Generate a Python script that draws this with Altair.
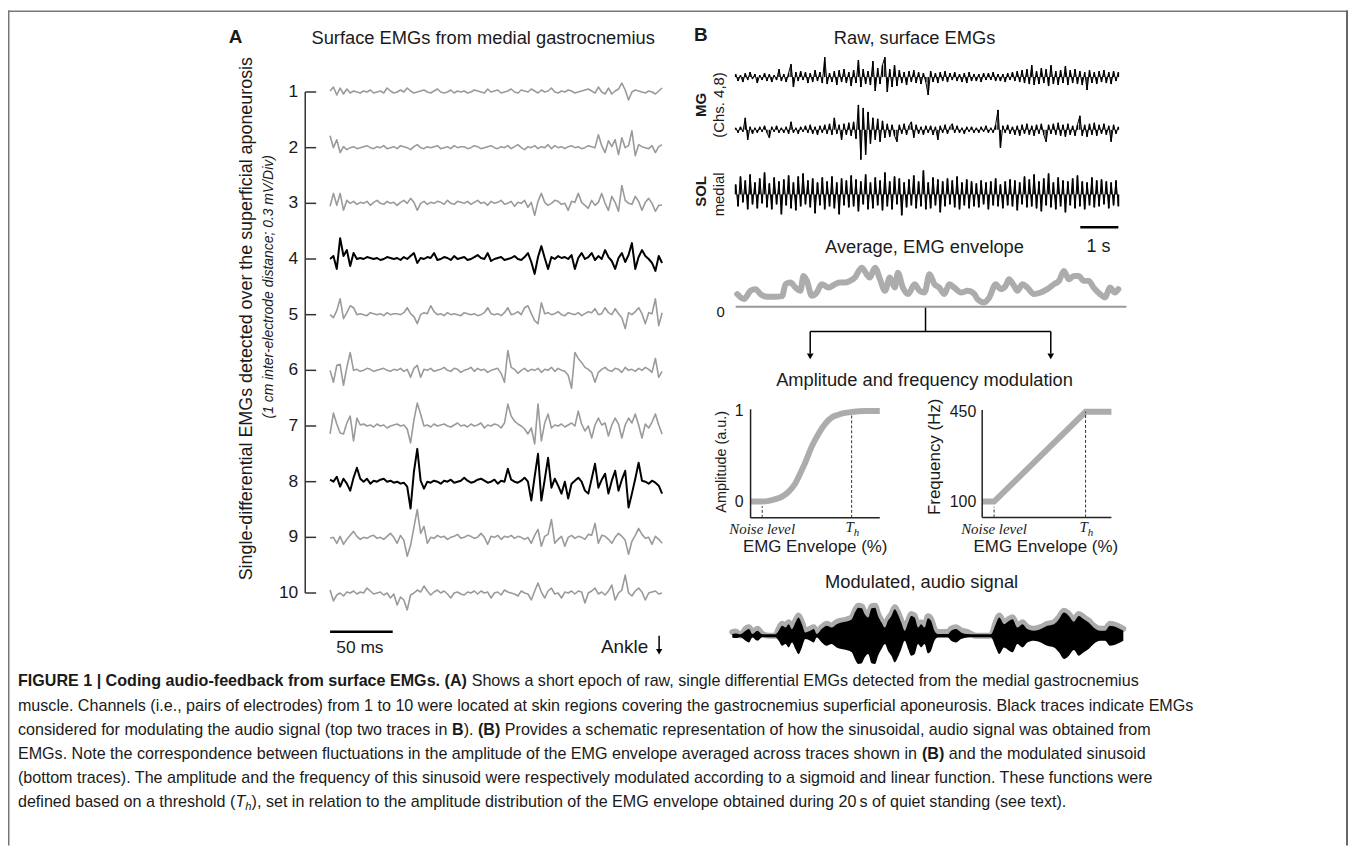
import altair as alt
import numpy as np
import pandas as pd

# ---------------------------------------------------------------- data
# Panel A: single-differential EMGs, channels 1-10 (deflection, up = positive;
# one channel division = 56 units = 0.3 mV)
A_EPOCH_MS = 265
A_SCALEBAR_MS = 50
A_CHANNELS = [1, 2, 3, 4, 5, 6, 7, 8, 9, 10]
A_DARK_CHANNELS = [4, 8]
A_UNITS_PER_DIV = 56

A_CH1 = [1, 5, -3, 4, -2, 3, -1, 1, 0, -1, 1, 0, 2, -1, 0, 1, -1, 4, 1, -1,
         0, 2, 0, 4, 1, -1, 0, 1, 2, 0, -1, 1, 3, 0, -1, 0, 2, -1, 1, 0,
         1, -1, 0, 2, 1, 0, -1, 3, 0, 1, 2, -1, 0, 1, 3, 0, -1, 2, 1, 0,
         3, 1, -1, 2, 0, 1, 4, 0, -1, 1, 0, 2, 1, -1, 0, 1, 2, 3, 1, -1,
         5, 0, -2, 4, -2, 1, 3, 9, 2, -8, 0, 2, 1, 0, -1, 1, 0, -2, 1, 4]
A_CH2 = [12, 0, 8, -5, 1, -2, 0, 1, -1, 0, 1, 2, 0, -1, 1, 0, 2, -1, 0, 1,
         -1, 2, 1, 0, -2, 1, 3, 0, -1, 1, 0, 1, 2, -1, 0, 1, -1, 2, 0, 1,
         1, -1, 0, 2, 1, -1, 0, 1, 2, 0, -1, 1, 0, 2, -1, 1, 3, 0, -2, 1,
         0, 2, -1, 1, 0, 3, -1, 2, 0, 1, -1, 1, 2, 0, 1, -1, 0, 2, 1, 0,
         13, 2, -5, 7, 1, 8, -7, 10, 0, 2, 17, -8, 3, 1, 0, -1, 2, -5, 1, 3]
A_CH3 = [-3, 10, -2, 10, -7, 3, 0, 2, -1, 1, 0, 2, -2, 1, 3, 0, -1, 2, 0, 1,
         -2, 1, 3, 0, 5, 1, -7, 0, 2, -1, 1, 0, 2, 1, -1, 3, 0, -1, 2, 1,
         0, 2, -1, 1, 3, 0, 1, -2, 2, 0, 1, 3, -1, 0, 2, -3, 1, 0, 3, -4,
         1, -12, 2, 10, 1, -2, 0, 3, 2, -1, 0, -7, 2, 1, 10, 1, -2, -5, 3, -2,
         1, 10, 0, -7, 7, 1, -8, 18, 3, 0, -1, 7, 2, -7, 1, 5, 0, -8, -2, -2]
A_CH4 = [0, 3, -10, 21, 3, 9, -7, 6, 0, 1, 0, 2, 1, 0, 1, -1, 0, 2, 1, 0,
         1, -1, 2, 0, 3, 6, -4, 1, 0, 2, 1, 6, -1, 0, 2, 1, -1, 3, 0, 1,
         2, -1, 0, 2, 4, 1, 0, 6, -2, 0, 1, 2, -1, 0, 1, 3, 0, -1, 2, 6,
         -3, -15, 2, 13, 1, -10, 2, 0, 3, 1, 2, 0, 4, -10, 1, 6, 0, 2, 6, -1,
         3, 0, 9, 2, -2, -10, 1, 6, -3, 4, 16, -10, 2, 9, 3, 0, -4, -12, 3, -4]
A_CH5 = [0, -3, 4, 16, -4, 2, 9, 7, 0, 1, 0, -1, 2, 1, 0, 1, -1, 2, 0, 1,
         1, 0, 2, 7, 1, -2, -9, 0, 2, 1, 9, 3, 0, 1, -1, 2, 0, 1, 0, -1,
         2, 1, 0, 1, -1, 0, 2, 7, 1, 0, 1, -1, 2, 7, 0, 1, 3, 0, 7, 9,
         1, -6, -9, 12, 1, 2, 0, 1, 3, 0, -1, 2, 1, 0, 2, -1, 1, 3, 2, 6,
         0, 1, 7, 2, 0, 6, 1, -3, -14, 2, 0, 3, 7, 1, -9, 2, 1, 16, -11, 2]
A_CH6 = [0, -12, 5, 6, -15, 3, 18, 0, 1, -1, 0, 2, 1, -1, 0, 1, 2, 0, -1, 1,
         0, 2, -1, 1, -7, 2, 5, -7, 1, 0, 2, -1, 0, 1, 3, 0, -1, 2, 1, -2,
         0, 1, 3, -1, 2, 0, 1, -2, 0, 1, 2, -3, -12, 20, 3, 1, -3, 0, 2, -1,
         1, 0, 2, -2, 1, 0, 3, -1, 2, 0, -1, -5, -18, 18, 12, 8, 3, 1, -2, -12,
         -2, 1, 3, 0, -1, 2, 1, -2, 3, 0, 1, -1, 2, 0, 3, 1, -2, 12, -7, -1]
A_CH7 = [-8, 13, 2, -7, -8, 3, 10, -15, 8, 1, 2, 0, 1, -1, 2, 0, 1, -2, 0, 1,
         2, 0, 1, -3, -17, 6, 23, 12, 0, 1, -1, 2, 0, 1, 2, 0, -1, 1, 3, 0,
         1, -1, 2, 0, 1, 3, -2, 1, 0, 2, 1, -2, 3, 22, 10, 5, 2, 0, -3, -8,
         -2, -18, 22, -15, 3, 12, -2, 1, 0, 2, -1, 1, 3, 0, 15, 2, -5, 0, -12, 1,
         8, 1, 3, -10, 1, 8, 2, -12, 1, 8, 3, 12, 1, -12, 2, -2, 4, 12, 1, -8]
A_CH8 = [2, 0, 5, -5, 3, -2, -9, 4, 14, 3, 0, 3, -2, 1, 0, 2, 3, 0, 1, -1,
         0, -2, -1, -5, -27, 10, 33, 1, -7, 0, -1, 1, 0, -2, 1, 0, 2, -1, 0, 1,
         4, 1, -1, 0, 2, 3, 1, -1, 0, 2, -2, 1, 0, 13, 2, 0, -1, 1, 4, 0,
         -19, 5, 28, -19, 2, 24, -6, 3, -4, -12, 0, -17, -2, 1, 4, 0, -9, -12, 3, 18,
         -6, 2, 8, -12, 1, 11, -9, 2, 11, -26, -12, 3, 19, 1, 0, -2, 1, -1, -4, -12]
A_CH9 = [-1, 0, -6, 1, -7, -2, 2, 6, 1, -2, 0, -1, 1, 2, -1, 0, -2, 1, 4, 0,
         -6, 2, -3, -19, -8, 10, 28, 4, 11, -6, 0, -1, 2, 0, 1, -2, 0, 1, 3, -1,
         0, 2, 1, -1, 0, 4, 0, -7, 1, 0, 2, -2, 1, 0, 2, -1, 1, 0, -2, 0,
         -6, 2, 8, -9, 1, 3, 18, -6, -2, 1, -9, 0, 2, -1, 1, 0, -2, 3, 2, 14,
         -6, 2, 1, -2, -6, 0, 4, 1, -3, -17, -4, 2, 9, 3, -1, 0, -7, 1, -2, -6]
A_CH10 = [3, -8, -2, 0, -3, 1, 0, 2, -1, 1, 0, 5, 2, -1, 0, 1, -2, 0, -5, -1,
          -12, -4, -7, -17, -2, 0, 3, 1, 7, 2, -2, 1, 3, 0, 2, -1, -5, 0, 1, -1,
          -2, 1, 0, 2, -1, 2, 0, 1, -5, 0, 1, -2, 3, 1, 0, -1, -3, 2, 0, -1,
          -7, 2, 10, 1, -5, 2, 5, -1, 0, -5, 1, 0, 2, -1, 2, 1, -10, 0, 2, 5,
          -1, 1, -2, 2, 8, -7, 0, 3, 18, 0, -3, 2, 5, 1, -7, 0, 1, 2, -1, 0]

# Panel B: raw surface EMGs (10 s)
B_DURATION_S = 10.05
B_SCALEBAR_S = 1.0
B_MG_CH4 = [3, -4, 2, -5, 4, -3, 5, -2, 3, -6, 2, -3, 4, -4, 3, -5, 2, -3, 8, -4,
            3, -5, 4, 13, -10, 5, -4, 6, -3, 5, -6, 4, -5, 7, -4, 5, -6, 20, -7, 4,
            -5, 6, -8, 7, -5, 8, -6, 5, -9, 7, -6, 17, -10, 8, -7, 6, -8, 16, -14, 9,
            -7, 12, 20, -15, 8, -10, 12, -9, 7, -6, 5, -8, 6, -5, 7, -6, 5, -7, 4, -5,
            -18, 6, -5, 4, -6, 5, -4, 6, -5, 4, -3, 5, -4, 3, -5, 4, -6, 5, -4, 3,
            -4, 3, -5, 4, -3, 4, -3, 5, -4, 3, -4, 3, -5, 4, -3, 5, -4, 6, -5, 7,
            -6, 8, -7, 12, -8, 6, -7, 9, -6, 8, -9, 12, -7, 6, -8, 7, -6, 11, -8, 7,
            -6, 8, -7, 6, -8, 5, -13, 7, -6, 5, -7, 6, -5, 7, -6, 5, -7, 6, -4, 5]
B_MG_CH8 = [2, -3, 3, -2, 12, -10, 3, -4, 2, -3, 3, -2, 4, -3, -8, 3, -2, 4, -3, 2,
            -3, 3, -4, 8, -3, 2, -4, 3, -2, 4, -3, 5, -4, 3, -5, 4, -3, 5, -4, 6,
            -5, 12, -4, 5, -10, 6, -5, 7, -6, 8, -9, 25, -30, 22, -25, 18, -14, 12, -10, 11,
            -12, 9, -8, 6, -7, 5, -6, -12, 5, -4, 6, -5, 4, 8, -8, 5, -4, 3, -5, 4,
            -3, 4, -5, 3, -10, 4, -3, 5, -4, 3, 6, -3, 4, -3, 2, -4, 3, -2, 3, -3,
            2, -3, 3, -2, 4, -3, 2, -3, 5, 20, -18, 4, -3, 5, -4, 3, -5, 4, -6, 5,
            -4, 6, -5, 4, -6, 5, -4, 6, -5, -12, 5, -4, 6, -5, 7, -6, 5, -7, 6, -5,
            4, -6, 5, 14, -6, 5, -7, 6, -5, 7, -6, 5, -4, 6, -5, 4, -12, 5, -4, 3]
B_SOL_MED = [10, -12, 18, -8, 14, -15, 20, -10, 12, -14, 16, -9, 22, -13, 11, -15, 17, -10, 13, -20,
             15, -11, 19, -14, 12, -16, 18, -12, 21, -10, 14, -13, 16, -19, 12, -11, 17, -15, 13, -12,
             18, -14, 12, -20, 16, -11, 14, -13, 19, -12, 15, -17, 13, -10, 20, -15, 12, -14, 17, -11,
             14, -16, 22, -12, 13, -15, 18, -10, 16, -21, 12, -13, 15, -11, 19, -14, 13, -12, 24, -15,
             12, -14, 17, -11, 15, -18, 13, -12, 16, -10, 14, -13, 18, -15, 12, -11, 15, -14, 13, -12,
             11, -13, 14, -10, 12, -15, 13, -11, 16, -12, 10, -14, 13, -11, 15, -12, 14, -16, 12, -10,
             18, -13, 15, -12, 20, -14, 13, -17, 16, -11, 21, -13, 12, -15, 17, -12, 14, -18, 13, -11,
             16, -14, 19, -12, 13, -15, 12, -11, 17, -13, 14, -12, 15, -10, 13, -14, 12, -11, 14, -12]

# Average EMG envelope (time in s, value in a.u.)
ENV_T = [0.04, 0.22, 0.39, 0.52, 0.65, 0.83, 1.04, 1.22, 1.31, 1.44, 1.57, 1.70, 1.78, 1.87,
         2.00, 2.13, 2.26, 2.44, 2.61, 2.74, 2.87, 3.00, 3.13, 3.31, 3.44, 3.52, 3.66, 3.79,
         3.92, 4.05, 4.18, 4.26, 4.39, 4.53, 4.70, 4.83, 4.96, 5.09, 5.22, 5.35, 5.48, 5.61,
         5.74, 5.92, 6.09, 6.27, 6.35, 6.53, 6.66, 6.83, 6.96, 7.09, 7.18, 7.31, 7.40, 7.53,
         7.66, 7.83, 8.01, 8.18, 8.36, 8.49, 8.62, 8.75, 8.88, 9.01, 9.14, 9.27, 9.40, 9.57,
         9.70, 9.83, 9.96, 10.05]
ENV_V = [12.7, 7.7, 16, 17.7, 12.7, 10, 10, 10.7, 22.7, 24.3, 19.3, 16, 31, 26,
         11, 14.3, 22.7, 19.3, 22.7, 24.3, 24.3, 26, 29.3, 39.3, 32.7, 29.3, 39.3, 27.7,
         16, 29.3, 19.3, 34.3, 19.3, 12.7, 22.7, 16, 14.3, 32.7, 22.7, 19.3, 12.7, 22.7,
         19.3, 14.3, 16, 12.7, 7.7, 4.3, 9.3, 22.7, 17.7, 21, 27.7, 21, 16, 22.7,
         19.3, 12.7, 14.3, 17.7, 22.7, 26, 36, 27.7, 31, 31, 26, 26, 19.3, 12.7,
         9.3, 19.3, 14.3, 17.7]
ENV_BASE_END_S = 10.26

# Modulated audio signal: envelope amplitude (a.u.)
AUD_T = [-0.09, 0.0, 0.13, 0.26, 0.35, 0.44, 0.57, 0.70, 0.87, 1.04, 1.13, 1.22, 1.31, 1.39,
         1.48, 1.57, 1.65, 1.74, 1.83, 1.96, 2.05, 2.13, 2.26, 2.39, 2.52, 2.65, 2.78, 2.91,
         3.05, 3.13, 3.22, 3.31, 3.39, 3.48, 3.57, 3.66, 3.74, 3.83, 3.92, 4.00, 4.09, 4.18,
         4.26, 4.35, 4.44, 4.53, 4.61, 4.70, 4.79, 4.87, 4.96, 5.05, 5.13, 5.22, 5.31, 5.44,
         5.57, 5.66, 5.79, 5.92, 6.09, 6.27, 6.35, 6.53, 6.70, 6.83, 6.92, 7.05, 7.18, 7.27,
         7.40, 7.53, 7.66, 7.83, 8.01, 8.18, 8.36, 8.49, 8.62, 8.75, 8.88, 9.01, 9.14, 9.27,
         9.40, 9.57, 9.70, 9.83, 10.01, 10.18]
AUD_A = [6.7, 7.3, 3.3, 10, 11.7, 6.7, 10, 5, 2.7, 2.7, 10, 15, 13.3, 16.7,
         11.7, 18.3, 23.3, 16.7, 8.3, 10, 11.7, 6.7, 11.7, 15, 13.3, 16.7, 18.3, 19.3,
         21.7, 28.3, 33.3, 32.7, 26.7, 23.3, 32.7, 33.3, 25, 18.3, 13.3, 20, 25, 31.7,
         26.7, 18.3, 10, 18.3, 25, 23.3, 13.3, 16.7, 13.3, 22.7, 20, 10, 6.7, 6.7,
         6.7, 10, 11.7, 8.3, 6.7, 3.3, 1.7, 0.7, 0.7, 16.7, 23.3, 16.7, 20, 21.7,
         13.3, 16.7, 11.7, 10, 11.7, 15, 16.7, 21.7, 28.3, 25, 19.3, 25, 21.7, 18.3,
         13.3, 10, 10, 15, 13.3, 10]

# Amplitude (sigmoid) and frequency (linear) modulation functions
SIG_X = [0, 9.0, 14.1, 19.2, 24.4, 29.5, 34.6, 39.7, 42.3, 47.4, 52.6, 57.7, 62.8, 67.9,
         73.1, 78.2, 88.5, 100]
SIG_Y = [0, 0, 0.007, 0.026, 0.055, 0.11, 0.20, 0.35, 0.43, 0.61, 0.75, 0.86, 0.93, 0.96,
         0.98, 0.99, 1.0, 1.0]
LIN_X = [0, 9.2, 80, 100]
LIN_Y = [100, 100, 450, 450]
SIG_TICKS = [0, 1]
LIN_TICKS = [100, 450]
NOISE_AMP, TH_AMP = 9.0, 78.2
NOISE_FREQ, TH_FREQ = 9.2, 80.0

# caption lines: list of (text, weight, style) segments
CAPTION_LINES = [
    [("FIGURE 1 | Coding audio-feedback from surface EMGs. (A) ", "bold", "normal"),
     ("Shows a short epoch of raw, single differential EMGs detected from the medial gastrocnemius", "normal", "normal")],
    [("muscle. Channels (i.e., pairs of electrodes) from 1 to 10 were located at skin regions covering the gastrocnemius superficial aponeurosis. Black traces indicate EMGs", "normal", "normal")],
    [("considered for modulating the audio signal (top two traces in ", "normal", "normal"),
     ("B", "bold", "normal"), ("). ", "normal", "normal"), ("(B) ", "bold", "normal"),
     ("Provides a schematic representation of how the sinusoidal, audio signal was obtained from", "normal", "normal")],
    [("EMGs. Note the correspondence between fluctuations in the amplitude of the EMG envelope averaged across traces shown in ", "normal", "normal"),
     ("(B) ", "bold", "normal"), ("and the modulated sinusoid", "normal", "normal")],
    [("(bottom traces). The amplitude and the frequency of this sinusoid were respectively modulated according to a sigmoid and linear function. These functions were", "normal", "normal")],
    [("defined based on a threshold (", "normal", "normal"), ("T", "normal", "italic"),
     ("h", "normal", "sub"),
     ("), set in relation to the amplitude distribution of the EMG envelope obtained during 20\u2009s of quiet standing (see text).", "normal", "normal")],
]

# ---------------------------------------------------------------- helpers
M = 8  # page margin


def P(v):
    return v - M


FONT = "Liberation Sans, Arial, Helvetica, sans-serif"
SERIF = "Liberation Serif, DejaVu Serif, serif"
TXT = "#1a1a1a"
GRAY = "#9a9a9a"
LGRAY = "#acacac"
ONE = pd.DataFrame({"k": [0]})

# Arial / Liberation Sans advance widths (1/1000 em) for caption layout
_REG = {' ': 278, '!': 278, '(': 333, ')': 333, ',': 278, '-': 333, '.': 278, '/': 278,
        ':': 278, ';': 278, '|': 260, '%': 889, '\u2009': 200,
        'A': 667, 'B': 667, 'C': 722, 'D': 722, 'E': 667, 'F': 611, 'G': 778, 'H': 722,
        'I': 278, 'J': 500, 'K': 667, 'L': 556, 'M': 833, 'N': 722, 'O': 778, 'P': 667,
        'Q': 778, 'R': 722, 'S': 667, 'T': 611, 'U': 722, 'V': 667, 'W': 944, 'X': 667,
        'Y': 667, 'Z': 611, 'a': 556, 'b': 556, 'c': 500, 'd': 556, 'e': 556, 'f': 278,
        'g': 556, 'h': 556, 'i': 222, 'j': 222, 'k': 500, 'l': 222, 'm': 833, 'n': 556,
        'o': 556, 'p': 556, 'q': 556, 'r': 333, 's': 500, 't': 278, 'u': 556, 'v': 500,
        'w': 722, 'x': 500, 'y': 500, 'z': 500}
_BOLD = dict(_REG)
_BOLD.update({'|': 280, 'A': 722, 'B': 722, 'J': 556, 'K': 722, 'L': 611, 'b': 611,
              'c': 556, 'd': 611, 'f': 333, 'g': 611, 'h': 611, 'i': 278, 'j': 278,
              'k': 556, 'l': 278, 'm': 889, 'n': 611, 'o': 611, 'p': 611, 'q': 611,
              'r': 389, 's': 556, 't': 333, 'u': 611, 'v': 556, 'w': 778, 'x': 556,
              'y': 556, '(': 333, ')': 333})


def text_width(s, size, bold=False):
    tab = _BOLD if bold else _REG
    return sum(tab.get(c, 556) for c in s) * size / 1000.0


def sc(dom, rng):
    return alt.Scale(domain=dom, range=rng, nice=False, zero=False)


def label(text, x, y, size=16, weight="normal", style="normal", angle=0,
          align="center", font=FONT, color=TXT):
    return alt.Chart(ONE).mark_text(
        fontSize=size, fontWeight=weight, fontStyle=style, angle=angle,
        align=align, baseline="middle", font=font, color=color
    ).encode(x=alt.value(P(x)), y=alt.value(P(y)), text=alt.value(text))


def vrule(x, y1, y2, color="black", w=1.5):
    return alt.Chart(ONE).mark_rule(color=color, strokeWidth=w).encode(
        x=alt.value(P(x)), y=alt.value(P(y1)), y2=alt.value(P(y2)))


def hrule(x1, x2, y, color="black", w=1.5):
    return alt.Chart(ONE).mark_rule(color=color, strokeWidth=w).encode(
        x=alt.value(P(x1)), x2=alt.value(P(x2)), y=alt.value(P(y)))


def tri(x, y, size=45):
    return alt.Chart(ONE).mark_point(shape="triangle-down", filled=True, size=size,
                                     color="black", opacity=1).encode(
        x=alt.value(P(x)), y=alt.value(P(y)))


def xd(v, scale=None):
    if scale is None:
        return alt.XDatum(v, type="quantitative", axis=None)
    return alt.XDatum(v, type="quantitative", axis=None, scale=scale)


def yd(v, scale=None):
    if scale is None:
        return alt.YDatum(v, type="quantitative", axis=None)
    return alt.YDatum(v, type="quantitative", axis=None, scale=scale)


layers = []

# ---------------------------------------------------------------- panel A
rows = []
for ch, vals in zip(A_CHANNELS, [A_CH1, A_CH2, A_CH3, A_CH4, A_CH5,
                                 A_CH6, A_CH7, A_CH8, A_CH9, A_CH10]):
    n = len(vals)
    for i, v in enumerate(vals):
        rows.append({"ch": ch, "t": i * A_EPOCH_MS / (n - 1),
                     "y": ch - v / A_UNITS_PER_DIV})
dfA = pd.DataFrame(rows)
xA = sc([0, A_EPOCH_MS], [P(332), P(666)])
yA = sc([1, 10], [P(90), P(594)])
encA = dict(x=alt.X("t:Q", scale=xA, axis=None),
            y=alt.Y("y:Q", scale=yA, axis=None), detail="ch:N")
a_gray = alt.Chart(dfA[~dfA.ch.isin(A_DARK_CHANNELS)]).mark_line(
    color=GRAY, strokeWidth=1.6, strokeJoin="round").encode(**encA)
a_dark = alt.Chart(dfA[dfA.ch.isin(A_DARK_CHANNELS)]).mark_line(
    color="black", strokeWidth=2, strokeJoin="round").encode(**encA)
dfCh = pd.DataFrame({"ch": A_CHANNELS})
a_ticks = alt.Chart(dfCh).mark_rule(color="#333", strokeWidth=1.5).encode(
    y=alt.Y("ch:Q", scale=yA, axis=None), x=alt.value(P(307)), x2=alt.value(P(318)))
a_lab = alt.Chart(dfCh).mark_text(align="right", baseline="middle", fontSize=17.5,
                                  font=FONT, color=TXT).encode(
    y=alt.Y("ch:Q", scale=yA, axis=None), x=alt.value(P(300)), text="ch:Q")
a_axis = alt.Chart(ONE).mark_rule(color="#333", strokeWidth=1.5).encode(
    x=alt.value(P(307)), y=yd(1, yA), y2=alt.Y2Datum(10))
a_bar = alt.Chart(ONE).mark_rule(color="black", strokeWidth=2.5).encode(
    x=xd(0, xA), x2=alt.X2Datum(A_SCALEBAR_MS), y=alt.value(P(633)))
layers.append(alt.layer(a_gray, a_dark, a_ticks, a_lab, a_axis, a_bar))

# ---------------------------------------------------------------- panel B raw
xB = sc([0, B_DURATION_S], [P(740), P(1125)])


def raw_layer(vals, base, half=35, stick=1.5):
    n = len(vals)
    df = pd.DataFrame({"t": np.arange(n) * B_DURATION_S / (n - 1), "v": vals})
    ys = sc([-half, half], [P(base) + half, P(base) - half])
    line = alt.Chart(df).mark_line(color="black", strokeWidth=1.0).encode(
        x=alt.X("t:Q", scale=xB, axis=None),
        y=alt.Y("v:Q", scale=ys, axis=None))
    sticks = alt.Chart(df).mark_rule(color="black", strokeWidth=stick).encode(
        x=alt.X("t:Q", scale=xB, axis=None),
        y=alt.Y("v:Q", scale=ys, axis=None), y2=alt.Y2Datum(0))
    return alt.layer(line, sticks)


layers.append(raw_layer(B_MG_CH4, 75))
layers.append(raw_layer(B_MG_CH8, 128))
layers.append(raw_layer(B_SOL_MED, 193, stick=1.8))

# envelope + scale bar
dfE = pd.DataFrame({"t": ENV_T, "v": ENV_V})
yE = sc([0, 40], [P(306), P(266)])
e_line = alt.Chart(dfE).mark_line(color=LGRAY, strokeWidth=6, strokeJoin="round",
                                  strokeCap="round", interpolate="monotone").encode(
    x=alt.X("t:Q", scale=xB, axis=None), y=alt.Y("v:Q", scale=yE, axis=None))
e_base = alt.Chart(ONE).mark_rule(color="#9a9a9a", strokeWidth=2).encode(
    x=xd(0), x2=alt.X2Datum(ENV_BASE_END_S), y=yd(0))
e_bar = alt.Chart(ONE).mark_rule(color="black", strokeWidth=2.5).encode(
    x=xd(B_DURATION_S - B_SCALEBAR_S), x2=alt.X2Datum(B_DURATION_S), y=alt.value(P(226)))
layers.append(alt.layer(e_line, e_base, e_bar))

# modulated audio
dfAu = pd.DataFrame({"t": AUD_T, "a": AUD_A})
dfAu["g"] = (dfAu.a - 3).clip(lower=0)
dfAu["b"] = (dfAu.a - 5).clip(lower=1.5)
dfAu["nb"] = -dfAu["b"]
yAu = sc([-40, 40], [P(637) + 40, P(637) - 40])
au_gray = alt.Chart(dfAu).mark_line(color=LGRAY, strokeWidth=6, strokeJoin="round",
                                    strokeCap="round", interpolate="monotone").encode(
    x=alt.X("t:Q", scale=xB, axis=None), y=alt.Y("g:Q", scale=yAu, axis=None))
au_black = alt.Chart(dfAu).mark_area(color="black", opacity=1, interpolate="monotone").encode(
    x=alt.X("t:Q", scale=xB, axis=None), y=alt.Y("b:Q", scale=yAu, axis=None),
    y2="nb:Q")
layers.append(alt.layer(au_gray, au_black))

# sigmoid panel
xS = sc([0, 100], [P(755), P(885)])
yS = sc([0, 1], [P(502), P(411)])
dfS = pd.DataFrame({"x": SIG_X, "y": SIG_Y})
s_curve = alt.Chart(dfS).mark_line(color=LGRAY, strokeWidth=6, interpolate="monotone").encode(
    x=alt.X("x:Q", scale=xS, axis=None), y=alt.Y("y:Q", scale=yS, axis=None))
s_yax = alt.Chart(ONE).mark_rule(color="#222", strokeWidth=1.5).encode(
    x=xd(0), y=yd(-0.18), y2=alt.Y2Datum(1.02))
s_xax = alt.Chart(ONE).mark_rule(color="#222", strokeWidth=1.5).encode(
    x=xd(0), x2=alt.X2Datum(100), y=yd(-0.18))
s_noise = alt.Chart(ONE).mark_rule(color="#333", strokeWidth=1, strokeDash=[3, 2]).encode(
    x=xd(NOISE_AMP), y=yd(-0.18), y2=alt.Y2Datum(-0.05))
s_th = alt.Chart(ONE).mark_rule(color="#333", strokeWidth=1, strokeDash=[3, 2]).encode(
    x=xd(TH_AMP), y=yd(-0.18), y2=alt.Y2Datum(0.97))
s_tl = alt.Chart(pd.DataFrame({"v": SIG_TICKS})).mark_text(
    align="right", baseline="middle", fontSize=16, font=FONT, color=TXT).encode(
    y=alt.Y("v:Q", axis=None), x=alt.value(P(748)), text="v:Q")
s_nl = alt.Chart(ONE).mark_text(fontSize=15, font=SERIF, fontStyle="italic", color=TXT,
                                baseline="middle").encode(
    x=xd(NOISE_AMP), y=alt.value(P(530)), text=alt.value("Noise level"))
s_T = alt.Chart(ONE).mark_text(fontSize=15, font=SERIF, fontStyle="italic", color=TXT,
                               baseline="middle", dx=-2).encode(
    x=xd(TH_AMP), y=alt.value(P(528)), text=alt.value("T"))
s_h = alt.Chart(ONE).mark_text(fontSize=11, font=SERIF, fontStyle="italic", color=TXT,
                               baseline="middle", dx=5).encode(
    x=xd(TH_AMP), y=alt.value(P(534)), text=alt.value("h"))
layers.append(alt.layer(s_curve, s_yax, s_xax, s_noise, s_th, s_tl, s_nl, s_T, s_h))

# linear panel
xL = sc([0, 100], [P(988), P(1118)])
yL = sc([100, 450], [P(502), P(411.7)])
dfL = pd.DataFrame({"x": LIN_X, "y": LIN_Y})
l_curve = alt.Chart(dfL).mark_line(color=LGRAY, strokeWidth=6).encode(
    x=alt.X("x:Q", scale=xL, axis=None), y=alt.Y("y:Q", scale=yL, axis=None))
l_yax = alt.Chart(ONE).mark_rule(color="#222", strokeWidth=1.5).encode(
    x=xd(0), y=yd(38), y2=alt.Y2Datum(457))
l_xax = alt.Chart(ONE).mark_rule(color="#222", strokeWidth=1.5).encode(
    x=xd(0), x2=alt.X2Datum(100), y=yd(38))
l_noise = alt.Chart(ONE).mark_rule(color="#333", strokeWidth=1, strokeDash=[3, 2]).encode(
    x=xd(NOISE_FREQ), y=yd(38), y2=alt.Y2Datum(80))
l_th = alt.Chart(ONE).mark_rule(color="#333", strokeWidth=1, strokeDash=[3, 2]).encode(
    x=xd(TH_FREQ), y=yd(38), y2=alt.Y2Datum(450))
l_tl = alt.Chart(pd.DataFrame({"v": LIN_TICKS})).mark_text(
    align="right", baseline="middle", fontSize=16, font=FONT, color=TXT).encode(
    y=alt.Y("v:Q", axis=None), x=alt.value(P(982)), text="v:Q")
l_nl = alt.Chart(ONE).mark_text(fontSize=15, font=SERIF, fontStyle="italic", color=TXT,
                                baseline="middle").encode(
    x=xd(NOISE_FREQ), y=alt.value(P(530)), text=alt.value("Noise level"))
l_T = alt.Chart(ONE).mark_text(fontSize=15, font=SERIF, fontStyle="italic", color=TXT,
                               baseline="middle", dx=-2).encode(
    x=xd(TH_FREQ), y=alt.value(P(528)), text=alt.value("T"))
l_h = alt.Chart(ONE).mark_text(fontSize=11, font=SERIF, fontStyle="italic", color=TXT,
                               baseline="middle", dx=5).encode(
    x=xd(TH_FREQ), y=alt.value(P(534)), text=alt.value("h"))
layers.append(alt.layer(l_curve, l_yax, l_xax, l_noise, l_th, l_tl, l_nl, l_T, l_h))

# ---------------------------------------------------------------- annotations
TS = 18.4  # panel title size
layers += [
    label("A", 237, 35, size=19, weight="bold"),
    label("Surface EMGs from medial gastrocnemius", 486, 36, size=TS),
    label("Single-differential EMGs detected over the superficial aponeurosis", 248, 318,
          size=18, angle=270),
    label("(1 cm inter-electrode distance; 0.3 mV/Div)", 271, 286, size=14,
          style="italic", angle=270),
    label("50 ms", 362, 649, size=17.5),
    label("Ankle", 652, 648, size=19, align="right"),
    vrule(663, 637, 651), tri(663, 653, 40),
    label("B", 705, 33, size=19, weight="bold"),
    label("Raw, surface EMGs", 920, 36, size=TS),
    label("MG", 705, 103, size=15, weight="bold", angle=270),
    label("(Chs. 4,8)", 723, 103, size=15, angle=270),
    label("SOL", 705, 190, size=15, weight="bold", angle=270),
    label("medial", 723, 193, size=15, angle=270),
    label("Average, EMG envelope", 930, 246, size=TS),
    label("1 s", 1105, 246, size=18),
    label("0", 725, 311, size=15),
    vrule(931, 307, 331), hrule(815, 1057, 331),
    vrule(815, 331, 353), vrule(1057, 331, 353), tri(815, 356), tri(1057, 356),
    label("Amplitude and frequency modulation", 930, 380, size=TS),
    label("Amplitude (a.u.)", 726, 462, size=14.5, angle=270),
    label("Frequency (Hz)", 941, 457, size=17, angle=270),
    label("EMG Envelope (%)", 820, 548, size=17),
    label("EMG Envelope (%)", 1052, 548, size=17),
    label("Modulated, audio signal", 927, 583, size=TS),
    # frame
    vrule(8.75, 8, 848, color="#777", w=1.5),
    hrule(8, 1356, 8.75, color="#777", w=1.5),
    vrule(1355, 8, 848, color="#666", w=2),
]

CAP_SIZE = 16.2
CAP_X0 = 18
CAP_Y0, CAP_DY = 683, 24.2
for li, segs in enumerate(CAPTION_LINES):
    x = CAP_X0
    y = CAP_Y0 + li * CAP_DY
    for text, wt, st in segs:
        if st == "sub":
            size, yy, style = CAP_SIZE * 0.7, y + 5, "italic"
        else:
            size, yy, style = CAP_SIZE, y, st
        shown = text.strip(" ")
        lead = len(text) - len(text.lstrip(" "))
        layers.append(label(shown, x + text_width(" " * lead, size), yy, size=size,
                            weight=wt, style=style, align="left"))
        x += text_width(text, size, wt == "bold")

chart = alt.layer(*layers).resolve_scale(x="independent", y="independent").properties(
    width=1349, height=840, padding=0, autosize=alt.AutoSizeParams(type="none"),
    background="white"
).configure_view(stroke=None)

chart.save("out.html", embed_options={"renderer": "svg", "actions": False})
